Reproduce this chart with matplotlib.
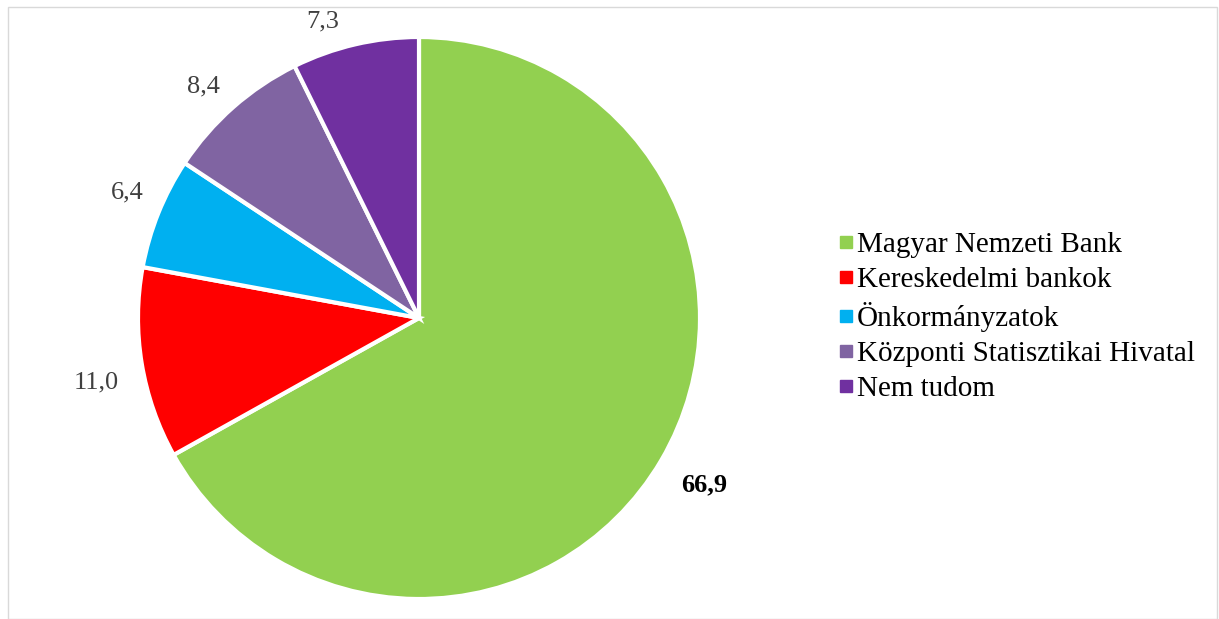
import matplotlib
matplotlib.use("Agg")
import numpy as np
import matplotlib.pyplot as plt
from matplotlib.patches import Rectangle
from matplotlib.lines import Line2D

categories = ["Magyar Nemzeti Bank", "Kereskedelmi bankok", "Önkormányzatok",
              "Központi Statisztikai Hivatal", "Nem tudom"]
values = [66.9, 11.0, 6.4, 8.4, 7.3]
colors = ["#92D050", "#FF0000", "#00B0F0", "#8064A2", "#7030A0"]

# data label placement: radial distance (fraction of radius) and angular nudge (deg)
label_r = [1.175, 1.17, 1.13, 1.125, 1.11]
label_dang = [0.0, 2.0, -1.3, 1.6, 4.8]

plt.rcParams["font.family"] = ["Liberation Serif", "DejaVu Serif"]

fig = plt.figure(figsize=(12.19, 6.19), dpi=100)
fig.patches.append(Rectangle((8 / 1219, 0.0), 1209 / 1219, 1 - 7 / 619, transform=fig.transFigure,
                             fill=False, edgecolor="#d9d9d9", lw=1))

cx, cy, r = 419 / 1219, 1 - 318 / 619, 281
w, h = 2 * r / 1219, 2 * r / 619
ax = fig.add_axes([cx - w / 2, cy - h / 2, w, h])

wedges, _ = ax.pie(values, colors=colors, startangle=90, counterclock=False,
                   wedgeprops=dict(edgecolor="white", linewidth=3))
for wdg, v, d, da in zip(wedges, values, label_r, label_dang):
    ang = np.deg2rad((wdg.theta1 + wdg.theta2) / 2 + da)
    bold = v == max(values)
    ax.text(d * np.cos(ang), d * np.sin(ang), f"{v:.1f}".replace(".", ","),
            ha="center", va="center", fontsize=19,
            fontweight="bold" if bold else "normal", color="black" if bold else "#404040")
ax.set_xlim(-1, 1); ax.set_ylim(-1, 1)
ax.set_aspect("equal")

handles = [Line2D([], [], marker="s", linestyle="none", markersize=8, color=c) for c in colors]
fig.legend(handles, categories, loc="center left", bbox_to_anchor=(826 / 1219, 1 - 317 / 619),
           frameon=False, fontsize=21, handletextpad=0.05, labelspacing=0.3,
           handlelength=0.6, borderaxespad=0)

fig.savefig("out.png", dpi=100)
